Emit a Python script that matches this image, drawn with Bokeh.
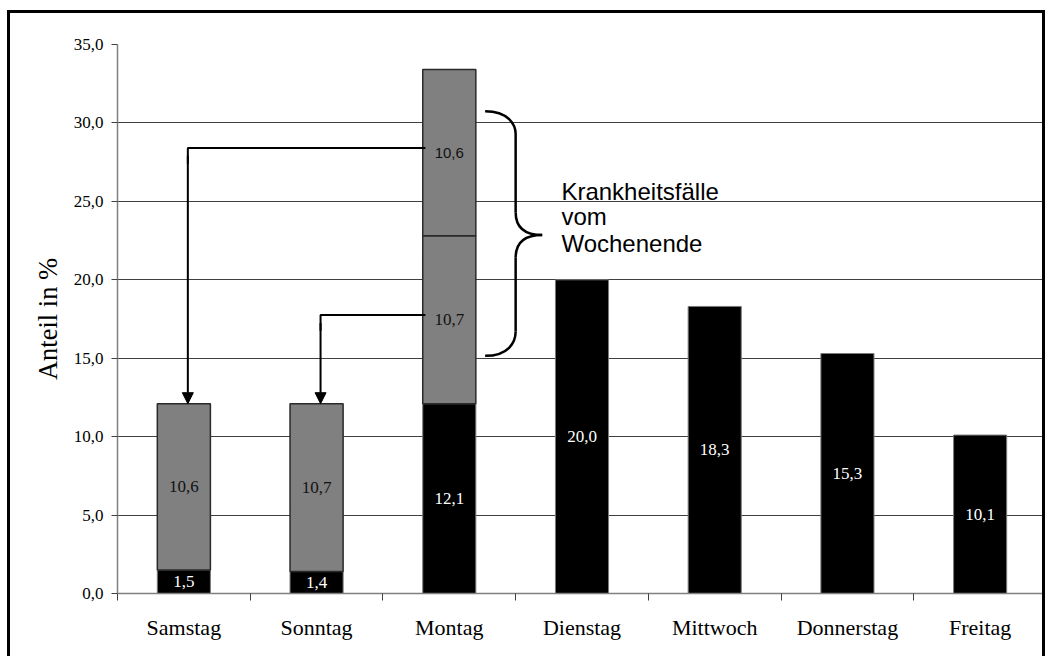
from bokeh.plotting import figure
from bokeh.models import Range1d, FixedTicker, Arrow, NormalHead, ColumnDataSource
from bokeh.core.properties import value
from bokeh.embed import file_html
from bokeh.resources import INLINE

# --- data -------------------------------------------------------------
days = ["Samstag", "Sonntag", "Montag", "Dienstag", "Mittwoch", "Donnerstag", "Freitag"]
same_day = [1.5, 1.4, 12.1, 20.0, 18.3, 15.3, 10.1]      # Krankmeldungen am selben Tag
weekend_cases = [10.6, 10.7]                            # Samstag, Sonntag -> erst Montag gemeldet
y_ticks = [0, 5, 10, 15, 20, 25, 30, 35]
y_tick_labels = ["0,0", "5,0", "10,0", "15,0", "20,0", "25,0", "30,0", "35,0"]


def fmt(v):
    return f"{v:.1f}".replace(".", ",")


SERIF = "Liberation Serif"
SANS = "Liberation Sans"
BAR_W = 0.4

xs = [i + 0.5 for i in range(len(days))]

# black segments: cases of the day itself
black = ColumnDataSource(dict(
    x=xs, top=same_day, bottom=[0] * len(days),
    mid=[v / 2 for v in same_day], label=[fmt(v) for v in same_day]))

# grey segments: weekend cases, on their own day and again stacked on Monday
sat, sun = weekend_cases
mon = same_day[2]
g_x = [xs[0], xs[1], xs[2], xs[2]]
g_bottom = [same_day[0], same_day[1], mon, mon + sun]
g_top = [same_day[0] + sat, same_day[1] + sun, mon + sun, mon + sun + sat]
g_vals = [sat, sun, sun, sat]
grey = ColumnDataSource(dict(
    x=g_x, bottom=g_bottom, top=g_top,
    mid=[(b + t) / 2 for b, t in zip(g_bottom, g_top)],
    label=[fmt(v) for v in g_vals]))

# the figure sits inside a black frame (open at the bottom)
p = figure(width=1038, height=646, x_range=Range1d(0, 7), y_range=Range1d(0, 35),
           output_backend="svg", toolbar_location=None,
           min_border_left=107, min_border_right=2, min_border_top=31, min_border_bottom=66)
p.styles = {"margin-left": "7px", "margin-top": "10px",
            "border-left": "3px solid black", "border-top": "3px solid black",
            "border-right": "3px solid black", "border-bottom": "none"}
p.outline_line_color = None
p.background_fill_color = "white"
p.border_fill_color = "white"

# grid
p.xgrid.visible = False
p.ygrid.ticker = FixedTicker(ticks=y_ticks[1:-1])
p.ygrid.grid_line_color = "#3f3f3f"
p.ygrid.grid_line_width = 1

# y axis
ya = p.yaxis[0]
ya.ticker = FixedTicker(ticks=y_ticks)
ya.major_label_overrides = {t: l for t, l in zip(y_ticks, y_tick_labels)}
ya.axis_line_color = "#808080"
ya.axis_line_width = 1.5
ya.major_tick_line_color = "#404040"
ya.major_tick_out = 6
ya.major_tick_in = 0
ya.minor_tick_line_color = None
ya.major_label_standoff = 8
ya.major_label_text_font = SERIF
ya.major_label_text_font_size = "17px"
ya.major_label_text_color = "black"
ya.axis_label = "Anteil in %"
ya.axis_label_text_font = SERIF
ya.axis_label_text_font_style = "normal"
ya.axis_label_text_font_size = "26.5px"
ya.axis_label_text_color = "black"
ya.axis_label_standoff = 8

# x axis: labels centred on the days, tick marks between them
xa = p.xaxis[0]
xa.ticker = FixedTicker(ticks=xs, minor_ticks=list(range(len(days) + 1)))
xa.major_label_overrides = {x: d for x, d in zip(xs, days)}
xa.axis_line_color = "#808080"
xa.axis_line_width = 1.5
xa.major_tick_line_color = None
xa.major_tick_out = 0
xa.major_tick_in = 0
xa.minor_tick_line_color = "#404040"
xa.minor_tick_out = 7
xa.minor_tick_in = 0
xa.major_label_standoff = 14
xa.major_label_text_font = SERIF
xa.major_label_text_font_size = "22px"
xa.major_label_text_color = "black"

# bars
p.vbar(x="x", top="top", bottom="bottom", width=BAR_W, source=black,
       fill_color="black", line_color="#7a7a7a", line_width=1)
p.vbar(x="x", top="top", bottom="bottom", width=BAR_W, source=grey,
       fill_color="#808080", line_color="#2a2a2a", line_width=1.5)

# value labels
p.text(x="x", y="mid", text="label", source=black, text_color="white",
       text_font=value(SERIF), text_font_size="17px",
       text_align="center", text_baseline="middle")
grey_serif = ColumnDataSource({k: v[:3] for k, v in grey.data.items()})
p.text(x="x", y="mid", text="label", source=grey_serif, text_color="#111111",
       text_font=value(SERIF), text_font_size="17px",
       text_align="center", text_baseline="middle")
grey_sans = ColumnDataSource({k: v[3:] for k, v in grey.data.items()})
p.text(x="x", y="mid", text="label", source=grey_sans, text_color="#111111",
       text_font=value(SANS), text_font_size="15px",
       text_align="center", text_baseline="middle")

# arrows: Monday's weekend shares point back to Saturday and Sunday
mon_left = xs[2] - BAR_W / 2 + 0.02
for day_idx, seg_idx in ((0, 3), (1, 2)):
    y_line = grey.data["mid"][seg_idx] + 0.3
    x_tgt = xs[day_idx] + 0.03
    p.line([mon_left, x_tgt, x_tgt], [y_line, y_line, y_line - 1.0],
           line_color="black", line_width=2)
    p.add_layout(Arrow(end=NormalHead(size=11, fill_color="black", line_color="black"),
                       x_start=x_tgt, y_start=y_line - 0.5,
                       x_end=x_tgt, y_end=g_top[day_idx],
                       line_color="black", line_width=2))

# curly brace
bx_end, bx_stem, bx_tip = 2.77, 3.0, 3.2
by_top, by_top_s, by_up_s, by_tip, by_lo_s, by_bot_s, by_bot = 30.75, 29.3, 24.3, 22.85, 21.4, 16.7, 15.15
p.bezier(
    x0=[bx_end, bx_stem, bx_tip, bx_stem],
    y0=[by_top, by_up_s, by_tip, by_bot_s],
    x1=[bx_stem, bx_tip, bx_stem, bx_end],
    y1=[by_top_s, by_tip, by_lo_s, by_bot],
    cx0=[bx_stem - 0.05, bx_stem, bx_stem + 0.08, bx_stem],
    cy0=[by_top, by_tip + 0.4, by_tip, by_bot + 0.9],
    cx1=[bx_stem, bx_stem + 0.08, bx_stem, bx_stem - 0.05],
    cy1=[by_top - 0.9, by_tip, by_tip - 0.4, by_bot],
    line_color="black", line_width=2.5)
p.segment(x0=[bx_stem, bx_stem], y0=[by_top_s, by_lo_s],
          x1=[bx_stem, bx_stem], y1=[by_up_s, by_bot_s],
          line_color="black", line_width=2.5)

p.text(x=[3.345] * 3, y=[25.6, 24.05, 22.3],
       text=["Krankheitsfälle", "vom", "Wochenende"],
       text_font=value(SANS), text_font_size="24px", text_color="black",
       text_align="left", text_baseline="alphabetic")

open("out.html", "w").write(file_html(p, INLINE))
